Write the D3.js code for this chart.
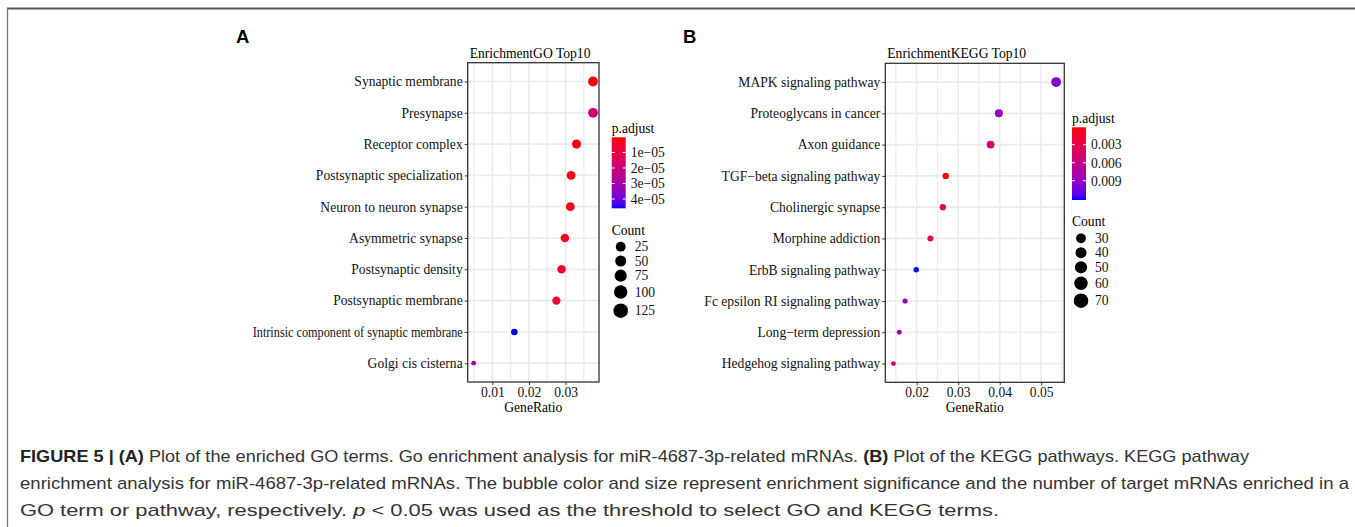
<!DOCTYPE html>
<html><head><meta charset="utf-8">
<script src="https://cdn.jsdelivr.net/npm/d3@7"></script>
<style>body{margin:0;background:#fff} svg{display:block}</style>
</head><body>
<svg id="c" width="1355" height="527"></svg>
<script>
// ---------- data ----------
const goTerms = ["Synaptic membrane","Presynapse","Receptor complex","Postsynaptic specialization","Neuron to neuron synapse","Asymmetric synapse","Postsynaptic density","Postsynaptic membrane","Intrinsic component of synaptic membrane","Golgi cis cisterna"];
const goRatio = [0.0375,0.0375,0.0330,0.0315,0.0313,0.0298,0.0289,0.0275,0.0160,0.0049];
const goCount = [139,139,122,117,116,110,107,102,59,18];
const goPadj  = [2e-7,1.9e-5,1.5e-6,2e-6,2.5e-6,3e-6,4e-6,7e-6,4.6e-5,2.9e-5];
const goRatioTicks = [0.01,0.02,0.03];
const goPadjBreaks = [1e-5,2e-5,3e-5,4e-5];
const goPadjLabels = ["1e\u221205","2e\u221205","3e\u221205","4e\u221205"];
const goCountBreaks = [25,50,75,100,125];

const keggTerms = ["MAPK signaling pathway","Proteoglycans in cancer","Axon guidance","TGF\u2212beta signaling pathway","Cholinergic synapse","Morphine addiction","ErbB signaling pathway","Fc epsilon RI signaling pathway","Long\u2212term depression","Hedgehog signaling pathway"];
const keggRatio = [0.0536,0.0398,0.0378,0.0270,0.0263,0.0233,0.0199,0.0172,0.0158,0.0144];
const keggCount = [74,55,52,37,36,32,27,24,22,20];
const keggPadj  = [0.0100,0.0088,0.0043,0.0001,0.0037,0.0019,0.0122,0.0088,0.0086,0.0049];
const keggRatioTicks = [0.02,0.03,0.04,0.05];
const keggPadjBreaks = [0.003,0.006,0.009];
const keggPadjLabels = ["0.003","0.006","0.009"];
const keggCountBreaks = [30,40,50,60,70];

// ---------- drawing ----------
const svg = d3.select("#c");
const SERIF = "'Liberation Serif','Times New Roman',serif";
const SANS = "'Liberation Sans',Arial,Helvetica,sans-serif";
const FS = 13.6;

// figure frame
svg.append("line").attr("x1",7).attr("x2",1355).attr("y1",8.5).attr("y2",8.5).attr("stroke","#555").attr("stroke-width",2);
svg.append("line").attr("x1",7.5).attr("x2",7.5).attr("y1",8).attr("y2",527).attr("stroke","#777").attr("stroke-width",1.3);

const defs = svg.append("defs");
let gradId = 0;

function panel(cfg){
  const g = svg.append("g");
  const {x0,x1,y0,y1} = cfg.box;
  const ext = d3.extent(cfg.ratio), pad = (ext[1]-ext[0])*0.05;
  const x = d3.scaleLinear().domain([ext[0]-pad, ext[1]+pad]).range([x0,x1]);
  const y = d3.scalePoint().domain(cfg.terms).range([y0,y1]).padding(0.6);
  const color = d3.scaleLinear().domain(cfg.padjDomain).range(["red","blue"]).interpolate(d3.interpolateLab);
  const r = d3.scaleLinear().domain(d3.extent(cfg.count)).range([2.4,4.9]);

  // panel background + grid
  g.append("rect").attr("x",x0).attr("y",y0).attr("width",x1-x0).attr("height",y1-y0).attr("fill","#fff");
  const t = cfg.ticks, step = t[1]-t[0];
  const minors = [t[0]-step/2];
  for(let i=0;i<t.length;i++) minors.push(t[i]+step/2);
  const dom = x.domain();
  g.selectAll(".mn").data(minors.filter(v=>v>dom[0]&&v<dom[1])).join("line")
    .attr("x1",d=>x(d)).attr("x2",d=>x(d)).attr("y1",y0).attr("y2",y1)
    .attr("stroke","#ebebeb").attr("stroke-width",1.2);
  g.selectAll(".mj").data(t).join("line")
    .attr("x1",d=>x(d)).attr("x2",d=>x(d)).attr("y1",y0).attr("y2",y1)
    .attr("stroke","#ebebeb").attr("stroke-width",1.7);
  g.selectAll(".hj").data(cfg.terms).join("line")
    .attr("x1",x0).attr("x2",x1).attr("y1",d=>y(d)).attr("y2",d=>y(d))
    .attr("stroke","#ebebeb").attr("stroke-width",1.7);

  // points
  g.selectAll(".pt").data(cfg.terms).join("circle")
    .attr("cx",(d,i)=>x(cfg.ratio[i])).attr("cy",d=>y(d))
    .attr("r",(d,i)=>r(cfg.count[i])).attr("fill",(d,i)=>color(cfg.padj[i]));

  // border
  g.append("rect").attr("x",x0).attr("y",y0).attr("width",x1-x0).attr("height",y1-y0)
    .attr("fill","none").attr("stroke","#333").attr("stroke-width",1.3);

  // axes
  const ax = g.append("g").attr("transform",`translate(0,${y1})`)
    .call(d3.axisBottom(x).tickValues(cfg.ticks).tickFormat(d3.format(".2f")).tickSize(3).tickPadding(2));
  const ay = g.append("g").attr("transform",`translate(${x0},0)`)
    .call(d3.axisLeft(y).tickSize(3).tickPadding(2));
  [ax,ay].forEach(a=>{
    a.select(".domain").remove();
    a.selectAll("line").attr("stroke","#333").attr("stroke-width",1);
    a.selectAll("text").attr("font-family",SERIF).attr("font-size",FS).attr("fill","#111");
  });
  ay.selectAll("text").each(function(){
    const w = this.getComputedTextLength();
    if(w>cfg.maxLabel) d3.select(this).attr("textLength",cfg.maxLabel).attr("lengthAdjust","spacingAndGlyphs");
  });

  g.append("text").attr("x",(x0+x1)/2).attr("y",y1+29.5).attr("text-anchor","middle")
    .attr("font-family",SERIF).attr("font-size",FS).attr("fill","#000").text("GeneRatio");
  g.append("text").attr("x",x0+2).attr("y",y0-5).attr("font-family",SERIF).attr("font-size",FS)
    .attr("fill","#000").text(cfg.title);
  g.append("text").attr("x",cfg.letter[0]).attr("y",cfg.letter[1]).attr("font-family",SANS)
    .attr("font-weight","bold").attr("font-size",18.5).attr("fill","#000").text(cfg.letterText);

  // colour legend
  const L = cfg.leg;
  g.append("text").attr("x",L.x).attr("y",L.titleY).attr("font-family",SERIF).attr("font-size",FS)
    .attr("fill","#000").text("p.adjust");
  const id = "grad"+(gradId++);
  const gr = defs.append("linearGradient").attr("id",id).attr("x1",0).attr("x2",0).attr("y1",0).attr("y2",1);
  d3.range(0,1.0001,0.05).forEach(s=>{
    gr.append("stop").attr("offset",s).attr("stop-color",d3.interpolateLab("red","blue")(s));
  });
  const cb = d3.scaleLinear().domain(cfg.padjDomain).range([L.barTop,L.barTop+L.barH]);
  g.append("rect").attr("x",L.x).attr("y",L.barTop).attr("width",14).attr("height",L.barH).attr("fill",`url(#${id})`);
  cfg.padjBreaks.forEach((b,i)=>{
    const yy = cb(b);
    g.append("line").attr("x1",L.x).attr("x2",L.x+3).attr("y1",yy).attr("y2",yy).attr("stroke","#fff").attr("stroke-width",1);
    g.append("line").attr("x1",L.x+11).attr("x2",L.x+14).attr("y1",yy).attr("y2",yy).attr("stroke","#fff").attr("stroke-width",1);
    g.append("text").attr("x",L.x+19).attr("y",yy).attr("dy","0.35em").attr("font-family",SERIF)
      .attr("font-size",FS).attr("fill","#111").text(cfg.padjLabels[i]);
  });
  // count legend
  const lr = d3.scaleLinear().domain(d3.extent(cfg.countBreaks)).range([4.9,7.3]);
  g.append("text").attr("x",L.x).attr("y",L.countTitleY).attr("font-family",SERIF).attr("font-size",FS)
    .attr("fill","#000").text("Count");
  cfg.countBreaks.forEach((b,i)=>{
    const yy = L.countY[i];
    g.append("circle").attr("cx",L.x+9).attr("cy",yy).attr("r",lr(b)).attr("fill","#000");
    g.append("text").attr("x",L.x+23).attr("y",yy).attr("dy","0.35em").attr("font-family",SERIF)
      .attr("font-size",FS).attr("fill","#111").text(b);
  });
}

panel({terms:goTerms, ratio:goRatio, count:goCount, padj:goPadj, ticks:goRatioTicks,
  padjDomain:[2e-7,4.6e-5], padjBreaks:goPadjBreaks, padjLabels:goPadjLabels, countBreaks:goCountBreaks,
  box:{x0:467.7,x1:599,y0:62.7,y1:382}, maxLabel:210, title:"EnrichmentGO Top10",
  letter:[236,42.7], letterText:"A",
  leg:{x:611.7,titleY:132.5,barTop:137.3,barH:71,countTitleY:234.5,countY:[246.7,261,275.7,292,310.7]}});

panel({terms:keggTerms, ratio:keggRatio, count:keggCount, padj:keggPadj, ticks:keggRatioTicks,
  padjDomain:[0.0001,0.0122], padjBreaks:keggPadjBreaks, padjLabels:keggPadjLabels, countBreaks:keggCountBreaks,
  box:{x0:885.3,x1:1064.3,y0:63.3,y1:382.3}, maxLabel:240, title:"EnrichmentKEGG Top10",
  letter:[683,42.7], letterText:"B",
  leg:{x:1072,titleY:122.5,barTop:127.3,barH:72.7,countTitleY:226,countY:[238.3,252.7,267.3,283.3,300.7]}});

// ---------- caption ----------
const capLines = [
  {y:462, end:1249, parts:[["FIGURE 5 | (A)","b"],[" Plot of the enriched GO terms. Go enrichment analysis for miR-4687-3p-related mRNAs. ",""],["(B)","b"],[" Plot of the KEGG pathways. KEGG pathway",""]]},
  {y:489, end:1349, parts:[["enrichment analysis for miR-4687-3p-related mRNAs. The bubble color and size represent enrichment significance and the number of target mRNAs enriched in a",""]]},
  {y:516, end:999, parts:[["GO term or pathway, respectively. ",""],["p","i"],[" < 0.05 was used as the threshold to select GO and KEGG terms.",""]]}
];
capLines.forEach(l=>{
  const t = svg.append("text").attr("x",20).attr("y",l.y).attr("font-family",SANS).attr("font-size",17).attr("fill","#333")
    .attr("textLength",l.end-20).attr("lengthAdjust","spacingAndGlyphs");
  l.parts.forEach(p=>{
    const s = t.append("tspan").text(p[0]);
    if(p[1]==="b") s.attr("font-weight","bold").attr("fill","#222");
    if(p[1]==="i") s.attr("font-style","italic");
  });
});
</script>
</body></html>
